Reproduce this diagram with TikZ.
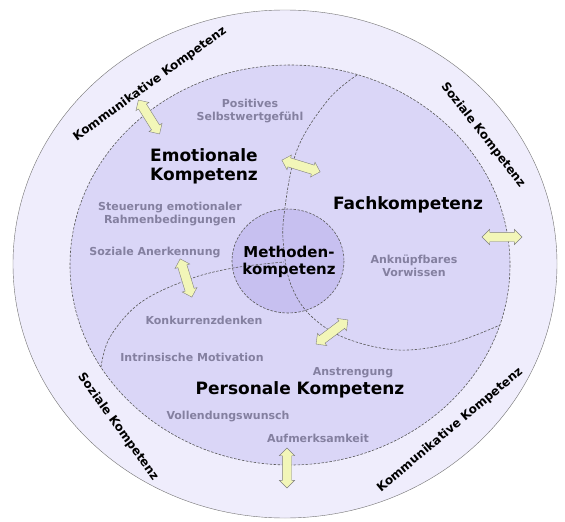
\documentclass[tikz,border=0pt]{standalone}
\usepackage{fontspec}
\setmainfont{DejaVu Sans}
\usepackage{tikz}
\usetikzlibrary{shapes,positioning}
\definecolor{ringbg}{HTML}{EFEDFC}
\definecolor{innerbg}{HTML}{DAD6F7}
\definecolor{methbg}{HTML}{C7C0F0}
\definecolor{soft}{HTML}{8480A0}
\definecolor{arrowbg}{HTML}{F2F6B8}
\tikzset{big/.style={font=\bfseries\fontsize{17}{19}\selectfont,align=center}}
\tikzset{small/.style={text=soft,font=\bfseries\fontsize{11}{12.5}\selectfont,align=center}}
\tikzset{ringtxt/.style={font=\bfseries\fontsize{12}{14}\selectfont}}
\tikzset{dbl/.style={double arrow,draw=black!50,fill=arrowbg,minimum height=40pt,inner xsep=0pt,inner ysep=4.5pt,double arrow head extend=3pt}}
\tikzset{bound/.style={draw=black!65,line width=0.6pt,dash pattern=on 2.5pt off 1.5pt}}

\begin{document}
\begin{tikzpicture}[x=1pt,y=-1pt]
    \useasboundingbox (0,0) rectangle (565,522);
    \fill[white] (0,0) rectangle (565,522);
    \draw[black!55,fill=ringbg] (285,264) ellipse [x radius=272,y radius=254];
    \draw[bound,fill=innerbg] (290,265) ellipse [x radius=220,y radius=200];
    \draw[bound,fill=methbg] (288,261) ellipse [x radius=56,y radius=52];

    % region borders
    \draw[bound] plot[smooth,tension=0.6] coordinates {(357,75) (328,100) (297,150) (284,215) (284,250) (291,285) (310,315) (345,338) (398,350) (452,343) (500,325)};
    \draw[bound] plot[smooth,tension=0.6] coordinates {(101,367) (110,337) (140,303) (187,280) (233,268) (284,262)};

    \node[ringtxt,rotate=36] (kom1) at (150,84) {Kommunikative Kompetenz};
    \node[ringtxt,rotate=-52] (soz1) at (483,135) {Soziale Kompetenz};
    \node[ringtxt,rotate=-54] (soz2) at (118,427) {Soziale Kompetenz};
    \node[ringtxt,rotate=40] (kom2) at (450,430) {Kommunikative Kompetenz};

    \node[big,align=left] (emo) at (204,166) {Emotionale\\Kompetenz};
    \node[big] (fach) at (408,205) {Fachkompetenz};
    \node[big,font=\bfseries\fontsize{15}{17}\selectfont] (meth) at (289,262) {Methoden-\\kompetenz};
    \node[big] (pers) at (300,390) {Personale Kompetenz};

    \node[small] (pos) at (250,111) {Positives\\Selbstwertgefühl};
    \node[small] (steu) at (170,214) {Steuerung emotionaler\\Rahmenbedingungen};
    \node[small] (anerk) at (155,253) {Soziale Anerkennung};
    \node[small] (ankn) at (414,266) {Anknüpfbares\\Vorwissen};
    \node[small] (konk) at (204,320) {Konkurrenzdenken};
    \node[small] (intr) at (192,357) {Intrinsische Motivation};
    \node[small] (anstr) at (353,373) {Anstrengung};
    \node[small] (voll) at (228,417) {Vollendungswunsch};
    \node[small] (aufm) at (318,438) {Aufmerksamkeit};

    \node[dbl,rotate=-58] (a1) at (149,117) {};
    \node[dbl,rotate=-17] (a2) at (301,166) {};
    \node[dbl] (a3) at (502,237) {};
    \node[dbl,rotate=-73] (a4) at (186,278) {};
    \node[dbl,rotate=37] (a5) at (332,332) {};
    \node[dbl,rotate=90] (a6) at (287,468) {};
\end{tikzpicture}
\end{document}
